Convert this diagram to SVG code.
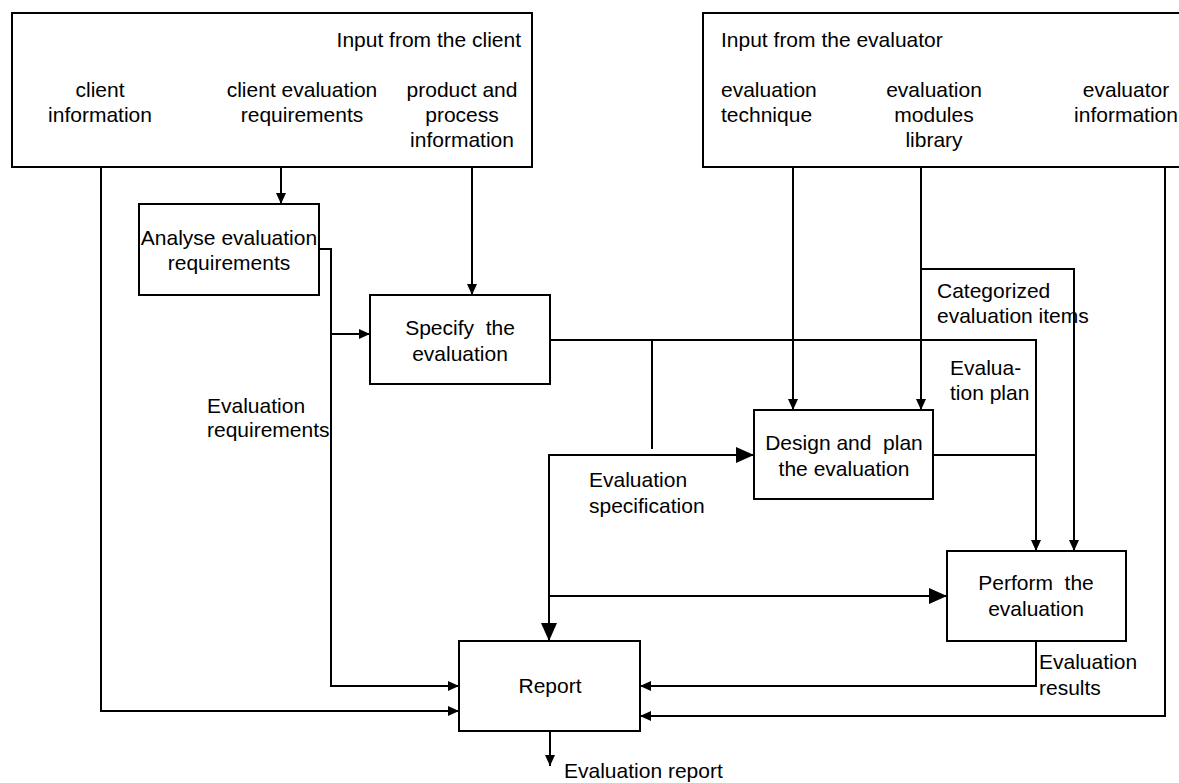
<svg xmlns="http://www.w3.org/2000/svg" width="1179" height="783" viewBox="0 0 1179 783">
<defs>
<style>
.box{fill:#fff;stroke:#000;stroke-width:2}
.ln{fill:none;stroke:#000;stroke-width:2}
text{font-family:"Liberation Sans",Arial,sans-serif;font-size:21px;fill:#000;white-space:pre}
.c{text-anchor:middle}
.e{text-anchor:end}
</style>
<marker id="a" viewBox="0 0 11 10" refX="11" refY="5" markerWidth="11" markerHeight="10" markerUnits="userSpaceOnUse" orient="auto"><path d="M0,0 L11,5 L0,10 z" fill="#000"/></marker>
<marker id="b" viewBox="0 0 18 16" refX="18" refY="8" markerWidth="18" markerHeight="16" markerUnits="userSpaceOnUse" orient="auto"><path d="M0,0 L18,8 L0,16 z" fill="#000"/></marker>
</defs>
<rect width="1179" height="783" fill="#fff"/>
<g id="connectors">
<path class="ln" d="M101,167 V711 H459" marker-end="url(#a)"/>
<path class="ln" d="M281,167 V204" marker-end="url(#a)"/>
<path class="ln" d="M472,167 V295" marker-end="url(#a)"/>
<path class="ln" d="M319,249 H331 V686 H459" marker-end="url(#a)"/>
<path class="ln" d="M331,334 H370" marker-end="url(#a)"/>
<path class="ln" d="M550,340 H1036 V551" marker-end="url(#a)"/>
<path class="ln" d="M652,340 V449"/>
<path class="ln" d="M549,455 H754" marker-end="url(#b)"/>
<path class="ln" d="M549,454 V641" marker-end="url(#b)"/>
<path class="ln" d="M549,596 H947" marker-end="url(#b)"/>
<path class="ln" d="M793,167 V410" marker-end="url(#a)"/>
<path class="ln" d="M921,167 V410" marker-end="url(#a)"/>
<path class="ln" d="M921,269 H1074 V551" marker-end="url(#a)"/>
<path class="ln" d="M1165,167 V716 H640" marker-end="url(#a)"/>
<path class="ln" d="M933,455 H1036"/>
<path class="ln" d="M1036,641 V686 H640" marker-end="url(#a)"/>
<path class="ln" d="M550,731 V766" marker-end="url(#a)"/>
<text x="207" y="413">Evaluation</text>
<text x="207" y="437">requirements</text>
<text x="589" y="487">Evaluation</text>
<text x="589" y="513">specification</text>
<text x="937" y="298">Categorized</text>
<text x="937" y="323">evaluation items</text>
<text x="950" y="375">Evalua-</text>
<text x="950" y="400">tion plan</text>
<text x="1039" y="669">Evaluation</text>
<text x="1039" y="695">results</text>
<text x="564" y="778">Evaluation report</text>
</g>
<g id="client-input">
<rect class="box" x="12" y="13" width="520" height="154"/>
<text class="e" x="521" y="47">Input from the client</text>
<text class="c" x="100" y="97">client</text>
<text class="c" x="100" y="122">information</text>
<text class="c" x="302" y="97">client evaluation</text>
<text class="c" x="302" y="122">requirements</text>
<text class="c" x="462" y="97">product and</text>
<text class="c" x="462" y="122">process</text>
<text class="c" x="462" y="147">information</text>
</g>
<g id="evaluator-input">
<rect class="box" x="703" y="13" width="500" height="154"/>
<text x="721" y="47">Input from the evaluator</text>
<text x="721" y="97">evaluation</text>
<text x="721" y="122">technique</text>
<text class="c" x="934" y="97">evaluation</text>
<text class="c" x="934" y="122">modules</text>
<text class="c" x="934" y="147">library</text>
<text class="c" x="1126" y="97">evaluator</text>
<text class="c" x="1126" y="122">information</text>
</g>
<g id="analyse">
<rect class="box" x="139" y="204" width="180" height="91"/>
<text class="c" x="229" y="245">Analyse evaluation</text>
<text class="c" x="229" y="270">requirements</text>
</g>
<g id="specify">
<rect class="box" x="370" y="295" width="180" height="89"/>
<text class="c" x="460" y="335">Specify  the</text>
<text class="c" x="460" y="361">evaluation</text>
</g>
<g id="design">
<rect class="box" x="754" y="410" width="179" height="89"/>
<text class="c" x="844" y="450">Design and  plan</text>
<text class="c" x="844" y="476">the evaluation</text>
</g>
<g id="perform">
<rect class="box" x="947" y="551" width="179" height="90"/>
<text class="c" x="1036" y="590">Perform  the</text>
<text class="c" x="1036" y="616">evaluation</text>
</g>
<g id="report">
<rect class="box" x="459" y="641" width="181" height="90"/>
<text class="c" x="550" y="693">Report</text>
</g>
</svg>
